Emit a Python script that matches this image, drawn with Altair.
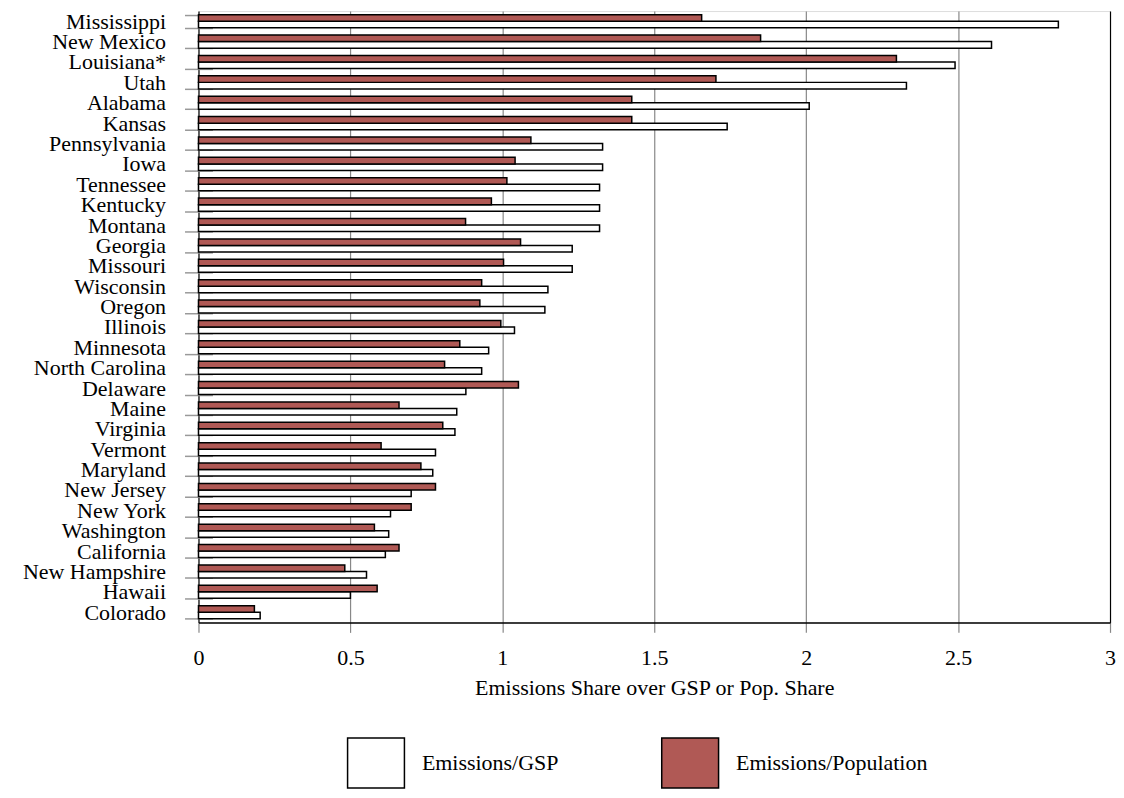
import altair as alt
import pandas as pd

states = ["Mississippi", "New Mexico", "Louisiana*", "Utah", "Alabama", "Kansas",
          "Pennsylvania", "Iowa", "Tennessee", "Kentucky", "Montana", "Georgia",
          "Missouri", "Wisconsin", "Oregon", "Illinois", "Minnesota", "North Carolina",
          "Delaware", "Maine", "Virginia", "Vermont", "Maryland", "New Jersey",
          "New York", "Washington", "California", "New Hampshire", "Hawaii", "Colorado"]

emis_gsp = [2.83, 2.61, 2.49, 2.33, 2.01, 1.74, 1.33, 1.33, 1.32, 1.32, 1.32, 1.23,
            1.23, 1.15, 1.14, 1.04, 0.955, 0.932, 0.88, 0.85, 0.844, 0.78, 0.771, 0.70,
            0.632, 0.626, 0.615, 0.553, 0.50, 0.203]

emis_pop = [1.656, 1.85, 2.297, 1.703, 1.426, 1.426, 1.094, 1.042, 1.015, 0.964, 0.879, 1.06,
            1.004, 0.932, 0.926, 0.995, 0.86, 0.81, 1.053, 0.66, 0.804, 0.601, 0.732, 0.78,
            0.70, 0.579, 0.66, 0.4815, 0.588, 0.184]

series_names = ["Emissions/GSP", "Emissions/Population"]
series_colors = ["#ffffff", "#b05955"]

rows = []
for s, g, p in zip(states, emis_gsp, emis_pop):
    rows.append({"state": s, "series": series_names[0], "value": g})
    rows.append({"state": s, "series": series_names[1], "value": p})
df = pd.DataFrame(rows)

FONT = "Liberation Serif"

chart = alt.Chart(df).mark_bar(stroke="black", strokeWidth=1.5).encode(
    x=alt.X("value:Q",
            scale=alt.Scale(domain=[0, 3], nice=False),
            axis=alt.Axis(values=[0, 0.5, 1, 1.5, 2, 2.5, 3], format="~g",
                          title="Emissions Share over GSP or Pop. Share",
                          grid=True,
                          gridColor=alt.condition("datum.value == 0 || datum.value == 3",
                                                  alt.value("black"), alt.value("#888888")),
                          gridWidth=1.2,
                          tickColor="#888888", tickSize=10, tickWidth=1.2,
                          domainColor="black", domainWidth=1.5,
                          labelFont=FONT, labelFontSize=22, labelColor="black",
                          labelPadding=15, labelFlush=False,
                          titleFont=FONT, titleFontSize=22, titleFontWeight="normal",
                          titleColor="black", titlePadding=9)),
    y=alt.Y("state:N", sort=states,
            scale=alt.Scale(paddingInner=0.36, paddingOuter=0.18),
            axis=alt.Axis(title=None, domain=False, offset=-14, tickSize=28,
                          tickBand="extent", tickColor="#999999", tickWidth=1.5,
                          labelFont=FONT, labelFontSize=22, labelColor="black",
                          labelPadding=19, labelLimit=400)),
    yOffset=alt.YOffset("series:N", sort=["Emissions/Population", "Emissions/GSP"],
                        scale=alt.Scale(paddingInner=0, paddingOuter=0)),
    fill=alt.Fill("series:N",
                  scale=alt.Scale(domain=series_names, range=series_colors),
                  legend=alt.Legend(title=None, orient="none", direction="horizontal",
                                    legendX=152, legendY=728,
                                    symbolType="M-1.14,-1H1.14V1H-1.14Z", symbolSize=2500,
                                    symbolStrokeColor="black", symbolStrokeWidth=1.5,
                                    labelFont=FONT, labelFontSize=22, labelColor="black",
                                    labelOffset=20, labelLimit=400,
                                    columnPadding=100, padding=0)),
).properties(
    width=914, height=613,
    autosize=alt.AutoSizeParams(type="none"),
    padding={"left": 191, "top": 2, "right": 6, "bottom": 167},
).configure_view(
    stroke="black", strokeWidth=1.5
).configure(background="white")

chart.save("out.html", embed_options={"renderer": "svg", "actions": False})
